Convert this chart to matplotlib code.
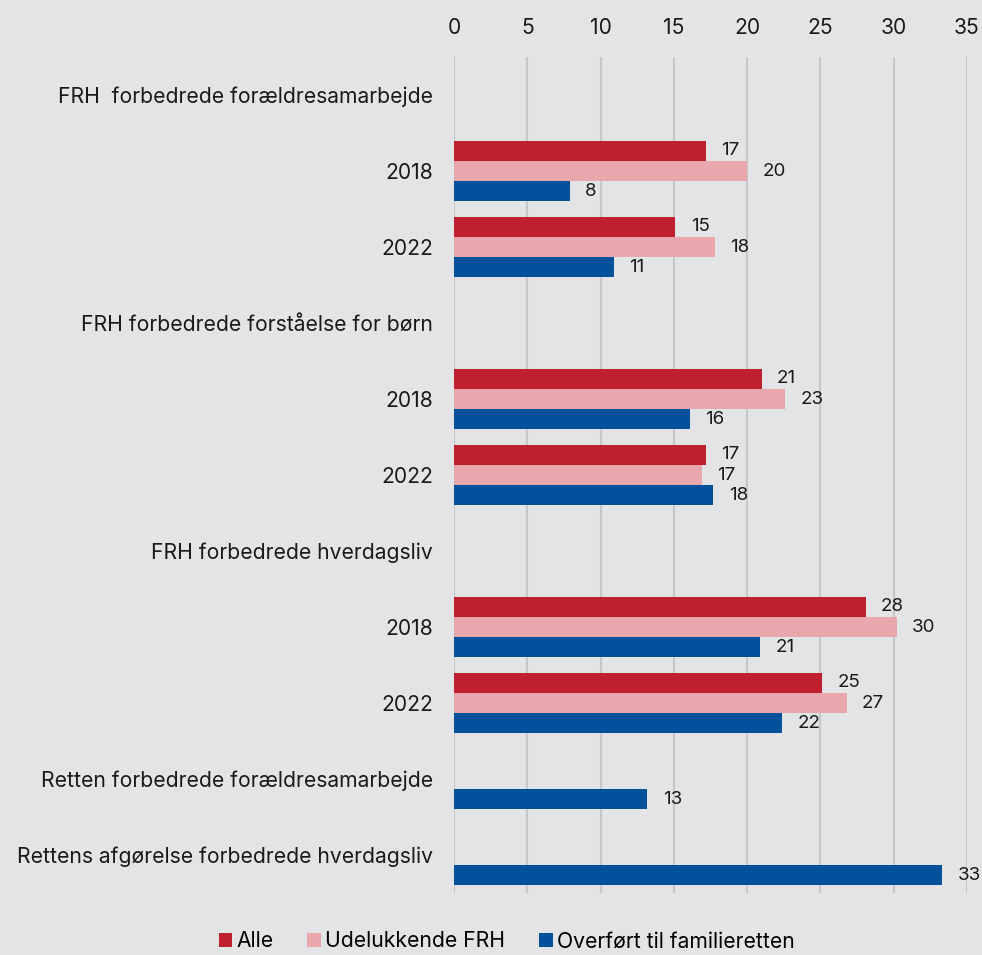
import numpy as np
import matplotlib
matplotlib.use("Agg")
import matplotlib.pyplot as plt
from matplotlib.patches import Patch

plt.rcParams["font.family"] = ["Inter", "DejaVu Sans"]

# rows top to bottom; header rows have no bars
categories = [
    "FRH  forbedrede forældresamarbejde",
    "2018",
    "2022",
    "FRH forbedrede forståelse for børn",
    "2018",
    "2022",
    "FRH forbedrede hverdagsliv",
    "2018",
    "2022",
    "Retten forbedrede forældresamarbejde",
    "Rettens afgørelse forbedrede hverdagsliv",
]
nan = np.nan
alle = [nan, 17.2, 15.1, nan, 21.0, 17.2, nan, 28.1, 25.1, nan, nan]
udelukkende_frh = [nan, 20.0, 17.8, nan, 22.6, 16.9, nan, 30.2, 26.8, nan, nan]
overfoert = [nan, 7.9, 10.9, nan, 16.1, 17.7, nan, 20.9, 22.4, 13.2, 33.3]

series = [
    ("Alle", alle, "#c01f30"),
    ("Udelukkende FRH", udelukkende_frh, "#e8a7ad"),
    ("Overført til familieretten", overfoert, "#00509b"),
]
xticks = [0, 5, 10, 15, 20, 25, 30, 35]

BG = "#e3e4e6"
GRID = "#c6c7c9"
TEXT = "#1a1a1a"

fig = plt.figure(figsize=(9.82, 9.55), dpi=100, facecolor=BG)
ax = fig.add_axes([0.4623, 0.0649, 0.5224, 0.8754], facecolor=BG)

y = np.arange(len(categories))
h = 0.267
for i, (name, vals, color) in enumerate(series):
    vals = np.array(vals, dtype=float)
    pos = y + (i - 1) * h
    mask = ~np.isnan(vals)
    bars = ax.barh(pos[mask], vals[mask], height=h, color=color, label=name, zorder=3)
    for b, v in zip(bars, vals[mask]):
        ax.annotate(f"{v:.0f}", (b.get_width(), b.get_y() + b.get_height() / 2),
                    xytext=(11, 0), textcoords="offset points",
                    ha="left", va="center", fontsize=13.5, color=TEXT)

ax.set_xlim(0, 35)
ax.set_ylim(len(categories) - 0.5, -0.5)
ax.set_xticks(xticks)
ax.set_yticks(y)
ax.set_yticklabels(categories)
ax.xaxis.tick_top()
ax.tick_params(axis="both", length=0, labelsize=15.2, colors=TEXT)
ax.tick_params(axis="y", pad=15)
ax.tick_params(axis="x", pad=14)
ax.grid(axis="x", color=GRID, linewidth=1.5, zorder=0)
for s in ax.spines.values():
    s.set_visible(False)

handles = [Patch(facecolor=c, label=n) for n, _, c in series]
fig.legend(handles=handles, loc="lower center", bbox_to_anchor=(0.516, -0.016), ncol=3,
           frameon=False, fontsize=15.2, handlelength=0.65, handleheight=0.65,
           handletextpad=0.2, columnspacing=1.6)

fig.savefig("out.png", dpi=100, facecolor=BG)
